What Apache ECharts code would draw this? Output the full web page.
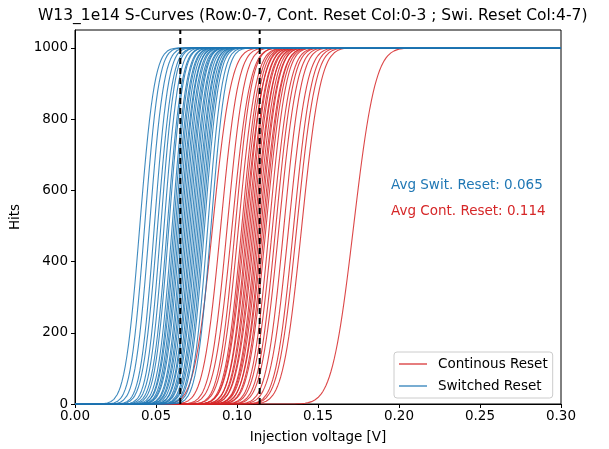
<!DOCTYPE html>
<html><head><meta charset="utf-8">
<script src="https://cdn.jsdelivr.net/npm/echarts@6/dist/echarts.min.js"></script>
<style>html,body{margin:0;padding:0;background:#fff}#c{width:609px;height:449px}</style>
</head><body><div id="c"></div>
<script>
// S-curve fit parameters (threshold = 50% point, noise = width)
const contThresholds = [0.085, 0.090, 0.094, 0.097, 0.099, 0.101, 0.103, 0.104, 0.105, 0.106, 0.107, 0.108, 0.109, 0.110, 0.111, 0.112, 0.113, 0.114, 0.115, 0.116, 0.117, 0.118, 0.120, 0.122, 0.124, 0.126, 0.129, 0.132, 0.135, 0.137, 0.140, 0.172];
const contNoise      = [0.0090, 0.0085, 0.0083, 0.0087, 0.0080, 0.0085, 0.0081, 0.0083, 0.0087, 0.0079, 0.0085, 0.0081, 0.0084, 0.0082, 0.0086, 0.0080, 0.0083, 0.0085, 0.0081, 0.0087, 0.0083, 0.0085, 0.0082, 0.0086, 0.0084, 0.0087, 0.0085, 0.0089, 0.0087, 0.0090, 0.0091, 0.0105];
const switThresholds = [0.040, 0.043, 0.046, 0.049, 0.051, 0.053, 0.055, 0.057, 0.058, 0.060, 0.061, 0.062, 0.063, 0.064, 0.065, 0.066, 0.067, 0.068, 0.069, 0.070, 0.071, 0.072, 0.073, 0.074, 0.075, 0.076, 0.077, 0.078, 0.079, 0.080, 0.082, 0.084];
const switNoise      = [0.0072, 0.0069, 0.0070, 0.0068, 0.0071, 0.0067, 0.0069, 0.0070, 0.0068, 0.0069, 0.0067, 0.0070, 0.0068, 0.0069, 0.0071, 0.0067, 0.0069, 0.0068, 0.0070, 0.0069, 0.0067, 0.0070, 0.0068, 0.0069, 0.0071, 0.0068, 0.0069, 0.0070, 0.0068, 0.0069, 0.0070, 0.0071];
const avgSwit = 0.065;
const avgCont = 0.114;
const nInjections = 1000;
const scanStart = 0.0, scanStop = 0.30, scanStep = 0.001;

function erf(x){
  const s = x < 0 ? -1 : 1; x = Math.abs(x);
  const t = 1/(1+0.3275911*x);
  const y = 1 - (((((1.061405429*t - 1.453152027)*t) + 1.421413741)*t - 0.284496736)*t + 0.254829592)*t*Math.exp(-x*x);
  return s*y;
}
const volts = [];
for (let i = 0; Math.round(scanStart/scanStep)+i <= Math.round(scanStop/scanStep); i++) volts.push(+(scanStart + i*scanStep).toFixed(4));
function scurve(mu, sig){
  return volts.map(v => [v, nInjections*0.5*(1+erf((v-mu)/(Math.SQRT2*sig)))]);
}
const RED = '#d62728', BLUE = '#1f77b4';
const series = [];
contThresholds.forEach((mu,i)=>series.push({name:'Continous Reset', type:'line', data:scurve(mu, contNoise[i]), showSymbol:false, symbol:'none', silent:true, lineStyle:{color:RED, width:1.1, opacity:0.85}, itemStyle:{color:RED}, animation:false}));
switThresholds.forEach((mu,i)=>series.push({name:'Switched Reset', type:'line', data:scurve(mu, switNoise[i]), showSymbol:false, symbol:'none', silent:true, lineStyle:{color:BLUE, width:1.1, opacity:0.85}, itemStyle:{color:BLUE}, animation:false}));
[avgSwit, avgCont].forEach(a=>series.push({type:'line', data:[[a,0],[a,1050]], symbol:'none', silent:true, lineStyle:{color:'#000', width:2, type:[6,4]}, animation:false, z:5}));

const chart = echarts.init(document.getElementById('c'));
const F = 'DejaVu Sans';
chart.setOption({
  backgroundColor:'#fff',
  animation:false,
  title:{text:'W13_1e14 S-Curves (Row:0-7, Cont. Reset Col:0-3 ; Swi. Reset Col:4-7)', left:33, top:3, textStyle:{fontFamily:F, fontSize:15.5, fontWeight:'normal', color:'#000'}},
  grid:{left:75, right:48, top:30, bottom:44, show:true, borderColor:'#000', borderWidth:1, backgroundColor:'transparent'},
  xAxis:{type:'value', min:0, max:0.3, interval:0.05, name:'Injection voltage [V]', nameLocation:'middle', nameGap:26,
    nameTextStyle:{fontFamily:F, fontSize:13.5, color:'#000'},
    axisLine:{lineStyle:{color:'#000'}}, axisTick:{length:4, lineStyle:{color:'#000'}},
    axisLabel:{fontFamily:F, fontSize:13.5, color:'#000', margin:5, formatter:v=>v.toFixed(2)}, splitLine:{show:false}},
  yAxis:{type:'value', min:0, max:1050, interval:200, name:'Hits', nameLocation:'middle', nameGap:49, nameRotate:90,
    nameTextStyle:{fontFamily:F, fontSize:13.5, color:'#000'},
    axisLine:{show:true, lineStyle:{color:'#000'}}, axisTick:{show:true, length:4, lineStyle:{color:'#000'}},
    axisLabel:{fontFamily:F, fontSize:13.5, color:'#000', margin:7, showMaxLabel:false, formatter:v=>String(v)}, splitLine:{show:false}},
  legend:{orient:'vertical', left:394, top:352, itemWidth:28, itemHeight:1.5, itemGap:8, padding:[5,5,5,5],
    borderColor:'#ccc', borderWidth:1, borderRadius:3, backgroundColor:'rgba(255,255,255,0.8)',
    textStyle:{fontFamily:F, fontSize:13.5, color:'#000', padding:[0,0,0,6]},
    data:[{name:'Continous Reset', icon:'rect', itemStyle:{color:RED, opacity:0.8}}, {name:'Switched Reset', icon:'rect', itemStyle:{color:BLUE, opacity:0.8}}]},
  graphic:[
    {type:'text', left:391, top:178, style:{text:'Avg Swit. Reset: 0.065', fill:BLUE, font:'13.5px "DejaVu Sans"'}},
    {type:'text', left:391, top:204, style:{text:'Avg Cont. Reset: 0.114', fill:RED, font:'13.5px "DejaVu Sans"'}}
  ],
  series:series
});
</script></body></html>
